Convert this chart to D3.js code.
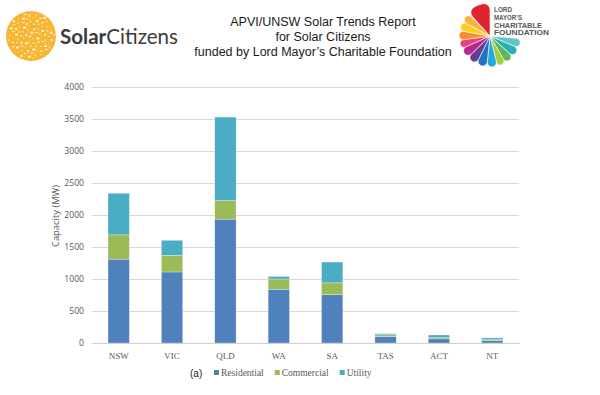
<!DOCTYPE html>
<html>
<head>
<meta charset="utf-8">
<script src="https://cdn.jsdelivr.net/npm/d3@7"></script>
<style>
  body { margin: 0; background: #fff; }
  svg { display: block; }
</style>
</head>
<body>
<div id="chart"></div>
<script>
// capacity by state, MW
const states = ['NSW', 'VIC', 'QLD', 'WA', 'SA', 'TAS', 'ACT', 'NT'];
const residential = [1310, 1110, 1935, 840, 755, 100, 65, 35];
const commercial = [380, 260, 290, 160, 185, 28, 18, 17];
const utility = [650, 235, 1305, 40, 325, 17, 42, 28];
const seriesNames = ['Residential', 'Commercial', 'Utility'];
const yTicks = [0, 500, 1000, 1500, 2000, 2500, 3000, 3500, 4000];

const colors = ['#4f81bd', '#9bbb59', '#4bacc6'];

const width = 600, height = 395;
const svg = d3.select('#chart').append('svg')
  .attr('width', width)
  .attr('height', height);

// ---- header ----
const title = ['APVI/UNSW  Solar Trends Report', 'for Solar Citizens', 'funded by Lord Mayor\u2019s  Charitable  Foundation'];
svg.append('g').selectAll('text')
  .data(title)
  .enter().append('text')
  .attr('x', 323)
  .attr('y', (d, i) => 26 + i * 15.2)
  .attr('text-anchor', 'middle')
  .attr('font-family', 'Liberation Sans, Arial, sans-serif')
  .attr('font-size', 12.5)
  .attr('fill', '#1a1a1a')
  .text(d => d);

// solar citizens logo
const sc = svg.append('g');
sc.append('circle').attr('cx', 31).attr('cy', 36).attr('r', 25).attr('fill', '#f8b532');
// little white specks to get the mosaic look
const specks = d3.range(0, 90);
sc.selectAll('rect.speck')
  .data(specks)
  .enter().append('rect')
  .attr('class', 'speck')
  .attr('x', d => 31 + Math.cos(d * 2.4) * Math.sqrt(d / 90) * 23 - 1)
  .attr('y', d => 36 + Math.sin(d * 2.4) * Math.sqrt(d / 90) * 23 - 1)
  .attr('width', d => 1 + (d % 3))
  .attr('height', d => 1 + ((d + 1) % 2))
  .attr('fill', '#fff')
  .attr('opacity', 0.75);
const sct = sc.append('text')
  .attr('x', 60).attr('y', 44)
  .attr('font-family', 'Lato, Open Sans, sans-serif')
  .attr('font-size', 20.5)
  .attr('fill', '#3b3b3b')
  .attr('textLength', 118)
  .attr('lengthAdjust', 'spacingAndGlyphs');
sct.append('tspan').attr('font-weight', 'bold').text('Solar');
sct.append('tspan').text('Citizens');

// lord mayor's flower
const petals = [
  { a0: 95, a1: 113, c: '#5ec6c7' },
  { a0: 113, a1: 132, c: '#27b1b4' },
  { a0: 132, a1: 150, c: '#5cb85c' },
  { a0: 150, a1: 166, c: '#a5cd39' },
  { a0: 166, a1: 186, c: '#2aa6df' },
  { a0: 186, a1: 206, c: '#1f74ba' },
  { a0: 206, a1: 226, c: '#673c97' },
  { a0: 226, a1: 246, c: '#b7288f' },
  { a0: 246, a1: 262, c: '#ec407a' },
  { a0: 262, a1: 280, c: '#f68d2e' },
  { a0: 280, a1: 298, c: '#fbd11b' },
  { a0: 298, a1: 316, c: '#fbb13b' },
  { a0: 318, a1: 360, c: '#e0242f' }
];
const petalArc = d3.arc()
  .innerRadius(0)
  .outerRadius(d => d.c === '#e0242f' ? 33 : 31)
  .startAngle(d => d.a0 * Math.PI / 180)
  .endAngle(d => d.a1 * Math.PI / 180)
  .cornerRadius(6);
svg.append('g')
  .attr('transform', 'translate(490,36)')
  .selectAll('path')
  .data(petals)
  .enter().append('path')
  .attr('d', petalArc)
  .attr('fill', d => d.c)
  .attr('stroke', '#fff')
  .attr('stroke-width', 0.6);

const lm = ['LORD', 'MAYOR\u2019S', 'CHARITABLE', 'FOUNDATION'];
const lmLen = [18, 28, 48, 55];
svg.append('g').selectAll('text')
  .data(lm)
  .enter().append('text')
  .attr('x', 494)
  .attr('y', (d, i) => 12.3 + i * 7.6)
  .attr('font-family', 'Liberation Sans, Arial, sans-serif')
  .attr('font-weight', 'bold')
  .attr('font-size', 7.4)
  .attr('fill', '#58595b')
  .attr('textLength', (d, i) => lmLen[i])
  .attr('lengthAdjust', 'spacingAndGlyphs')
  .text(d => d);

// ---- chart ----
const plot = { left: 92, right: 519, top: 87, bottom: 343 };

const x = d3.scaleBand()
  .domain(states)
  .range([plot.left, plot.right])
  .paddingInner(0.6)
  .paddingOuter(0.3);

const y = d3.scaleLinear()
  .domain([0, 4000])
  .range([plot.bottom, plot.top]);

// gridlines
svg.append('g')
  .attr('transform', `translate(${plot.left},0)`)
  .call(d3.axisLeft(y).tickValues(yTicks).tickSize(-(plot.right - plot.left)).tickFormat(d => d).tickPadding(8))
  .call(g => g.select('.domain').remove())
  .call(g => g.selectAll('.tick line').attr('stroke', '#d9d9d9').attr('stroke-width', 1))
  .call(g => g.selectAll('.tick text')
    .attr('font-family', 'Open Sans, sans-serif')
    .attr('font-size', 8.6)
    .attr('fill', '#595959'));

const rows = states.map((s, i) => ({
  state: s,
  Residential: residential[i],
  Commercial: commercial[i],
  Utility: utility[i]
}));
const stack = d3.stack().keys(seriesNames)(rows);

svg.append('g').selectAll('g')
  .data(stack)
  .enter().append('g')
  .attr('fill', (d, i) => colors[i])
  .selectAll('rect')
  .data(d => d)
  .enter().append('rect')
  .attr('x', d => x(d.data.state))
  .attr('y', d => y(d[1]))
  .attr('width', x.bandwidth())
  .attr('height', d => y(d[0]) - y(d[1]))
  .attr('stroke', '#fff')
  .attr('stroke-opacity', 0.6)
  .attr('stroke-width', 0.5);

// baseline + state labels
svg.append('g')
  .attr('transform', `translate(0,${plot.bottom})`)
  .call(d3.axisBottom(x).tickSize(0).tickPadding(10))
  .call(g => g.select('.domain').attr('stroke', '#d0d0d0'))
  .call(g => g.selectAll('.tick text')
    .attr('font-family', 'Liberation Serif, serif')
    .attr('font-size', 9)
    .attr('fill', '#595959'));

svg.append('text')
  .attr('transform', 'translate(59,216) rotate(-90)')
  .attr('text-anchor', 'middle')
  .attr('font-family', 'Open Sans, sans-serif')
  .attr('font-size', 9.4)
  .attr('fill', '#595959')
  .text('Capacity (MW)');

svg.append('text')
  .attr('x', 190).attr('y', 377)
  .attr('font-family', 'Liberation Sans, Arial, sans-serif')
  .attr('font-size', 10)
  .attr('fill', '#222')
  .text('(a)');

// legend
const legend = svg.append('g');
let lx = 214;
seriesNames.forEach((name, i) => {
  legend.append('rect')
    .attr('x', lx).attr('y', 370)
    .attr('width', 5).attr('height', 5)
    .attr('fill', colors[i]);
  const t = legend.append('text')
    .attr('x', lx + 7).attr('y', 376)
    .attr('font-family', 'Liberation Serif, serif')
    .attr('font-size', 9.5)
    .attr('fill', '#595959')
    .text(name);
  lx += 7 + t.node().getComputedTextLength() + 11;
});
</script>
</body>
</html>
